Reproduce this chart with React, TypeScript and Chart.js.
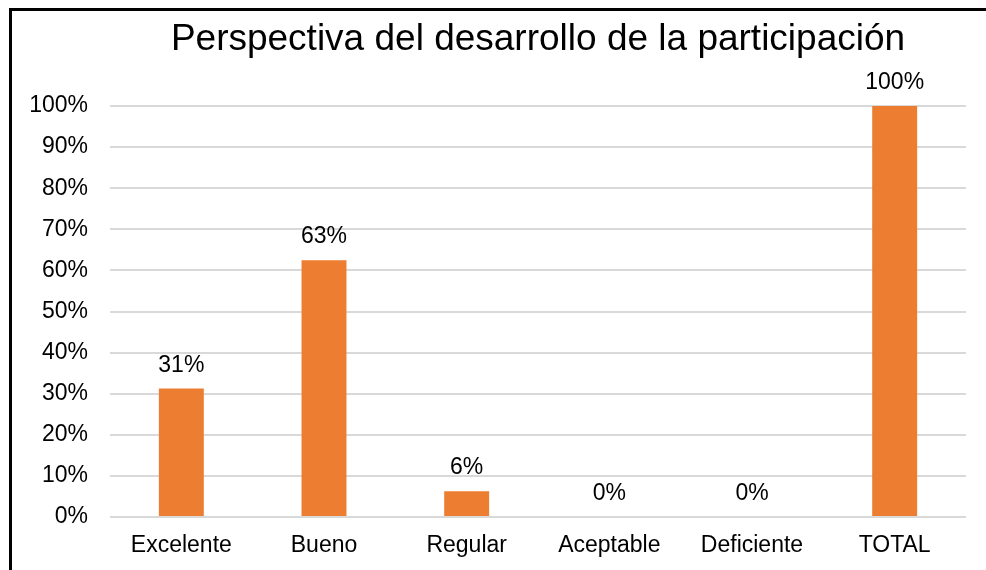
import React, { useEffect, useRef } from "react";
import { Chart, registerables } from "chart.js";

Chart.register(...registerables);

const titleText = "Perspectiva del desarrollo de la participación";
const categories = ["Excelente", "Bueno", "Regular", "Aceptable", "Deficiente", "TOTAL"];
const values = [31.25, 62.5, 6.25, 0, 0, 100];
const yTicks = [0, 10, 20, 30, 40, 50, 60, 70, 80, 90, 100];

const FONT = "'Liberation Sans', Arial, Helvetica, sans-serif";

const valueLabels = {
  id: "valueLabels",
  afterDatasetsDraw(chart: any) {
    const ctx = chart.ctx;
    const meta = chart.getDatasetMeta(0);
    ctx.save();
    ctx.font = `23px ${FONT}`;
    ctx.fillStyle = "#000";
    ctx.textAlign = "center";
    ctx.textBaseline = "alphabetic";
    meta.data.forEach((bar: any, i: number) => {
      const v = chart.data.datasets[0].data[i];
      ctx.fillText(`${Math.round(v)}%`, bar.x, bar.y - 17);
    });
    ctx.restore();
  },
};

export default function App() {
  const ref = useRef<HTMLCanvasElement | null>(null);

  useEffect(() => {
    if (!ref.current) return;
    const chart = new Chart(ref.current, {
      type: "bar",
      data: {
        labels: categories,
        datasets: [
          {
            data: values,
            backgroundColor: "#ED7D31",
            borderWidth: 0,
            barPercentage: 0.315,
            categoryPercentage: 1,
          },
        ],
      },
      options: {
        animation: false,
        responsive: false,
        maintainAspectRatio: false,
        layout: { padding: { left: 0, right: 20, top: 0, bottom: 0 } },
        plugins: {
          legend: { display: false },
          tooltip: { enabled: false },
          title: {
            display: true,
            text: titleText,
            fullSize: false,
            color: "#000",
            font: { family: FONT, size: 37, weight: "normal", lineHeight: 1 },
            padding: { top: 21, bottom: 48 },
          },
        },
        scales: {
          x: {
            grid: { display: false, drawTicks: false },
            border: { display: false },
            ticks: {
              color: "#000",
              font: { family: FONT, size: 23 },
              padding: 15,
              maxRotation: 0,
              autoSkip: false,
            },
            afterFit: (scale: any) => {
              scale.height = 53;
            },
          },
          y: {
            min: 0,
            max: 100,
            afterBuildTicks: (scale: any) => {
              scale.ticks = yTicks.map((v) => ({ value: v }));
            },
            grid: { color: "#d9d9d9", lineWidth: 2, drawTicks: false },
            border: { display: false },
            ticks: {
              color: "#000",
              font: { family: FONT, size: 23 },
              padding: 22,
              callback: (v: any) => `${v}%`,
            },
            afterFit: (scale: any) => {
              scale.width = 110;
            },
          },
        },
      },
      plugins: [valueLabels],
    });
    return () => chart.destroy();
  }, []);

  return (
    <div
      style={{
        position: "fixed",
        left: 0,
        top: 0,
        width: 986,
        height: 570,
        background: "#fff",
        overflow: "hidden",
      }}
    >
      <div
        style={{
          position: "absolute",
          left: 9,
          top: 8,
          width: 1000,
          height: 600,
          borderLeft: "3px solid #000",
          borderTop: "3px solid #000",
        }}
      />
      <canvas
        ref={ref}
        width={986}
        height={570}
        style={{ position: "absolute", left: 0, top: 0, width: 986, height: 570 }}
      />
    </div>
  );
}
